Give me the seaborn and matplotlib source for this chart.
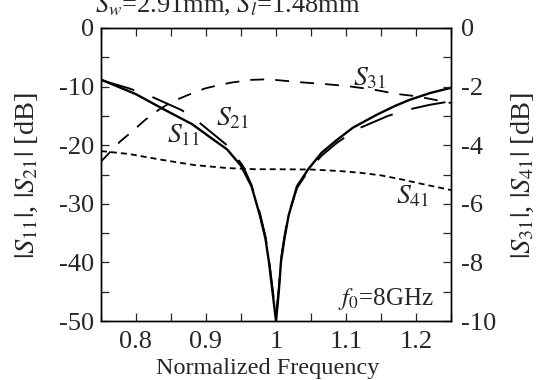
import matplotlib
matplotlib.use("Agg")
import matplotlib.pyplot as plt
from matplotlib.ticker import MultipleLocator
import seaborn as sns

sns.set_style("ticks")
plt.rcParams["font.family"] = ["Liberation Serif", "DejaVu Serif"]
plt.rcParams["mathtext.fontset"] = "stix"
plt.rcParams["lines.scale_dashes"] = False
plt.rcParams["axes.unicode_minus"] = False

# |S11| (solid, left axis, dB)
s11_f = [0.75, 0.78, 0.80, 0.84, 0.88, 0.91, 0.93, 0.95, 0.965, 0.977, 0.985, 0.99, 0.995, 1.0,
         1.004, 1.007, 1.012, 1.018, 1.03, 1.046, 1.065, 1.087, 1.11, 1.144, 1.17, 1.19, 1.22, 1.25]
s11_db = [-8.8, -10.3, -11.3, -13.9, -16.4, -19.0, -20.7, -23.5, -27.0, -32.0, -36.0, -40.0, -45.0, -50.0,
          -45.0, -40.0, -36.0, -32.0, -27.0, -24.1, -21.3, -19.1, -17.0, -14.8, -13.3, -12.3, -11.1, -10.2]

# |S21| (long dash, left axis, dB)
s21_f = [0.75, 0.79, 0.82, 0.865, 0.889, 0.934, 0.953, 0.965, 0.977, 0.985, 0.99, 0.995, 1.0,
         1.004, 1.007, 1.012, 1.018, 1.03, 1.046, 1.065, 1.087, 1.115, 1.16, 1.19, 1.22, 1.25]
s21_db = [-8.9, -10.3, -11.6, -14.0, -16.0, -20.4, -23.6, -26.8, -31.6, -35.6, -39.5, -44.5, -49.0,
          -44.5, -39.5, -35.6, -31.8, -27.3, -24.4, -21.8, -19.6, -17.3, -15.0, -13.9, -13.1, -12.5]

# |S31| (dash, right axis, dB)
s31_f = [0.75, 0.777, 0.794, 0.813, 0.832, 0.851, 0.88, 0.899, 0.92, 0.937, 0.965, 0.989,
         1.034, 1.068, 1.101, 1.139, 1.172, 1.201, 1.25]
s31_db = [-4.56, -3.88, -3.54, -3.14, -2.80, -2.52, -2.23, -2.06, -1.94, -1.86, -1.77, -1.75,
          -1.85, -1.91, -1.98, -2.10, -2.25, -2.33, -2.56]

# |S41| (short dash, right axis, dB)
s41_f = [0.75, 0.79, 0.837, 0.884, 0.93, 0.97, 1.0, 1.05, 1.09, 1.12, 1.15, 1.18, 1.21, 1.25]
s41_db = [-4.20, -4.30, -4.50, -4.68, -4.78, -4.82, -4.82, -4.83, -4.88, -4.94, -5.03, -5.17, -5.33, -5.53]

fig = plt.figure(figsize=(5.41, 3.8), dpi=100)
ax = fig.add_axes([101 / 541, 1 - 321 / 380, 350 / 541, 293 / 380])
ax2 = ax.twinx()

sns.lineplot(x=s11_f, y=s11_db, ax=ax, color="black", linewidth=1.7, estimator=None)
sns.lineplot(x=s21_f, y=s21_db, ax=ax, color="black", linewidth=1.4, estimator=None)
ax.lines[-1].set_dashes([25, 14])
sns.lineplot(x=s31_f, y=s31_db, ax=ax2, color="black", linewidth=1.3, estimator=None)
ax2.lines[-1].set_dashes([10, 8])
sns.lineplot(x=s41_f, y=s41_db, ax=ax2, color="black", linewidth=1.3, estimator=None)
ax2.lines[-1].set_dashes([4.3, 2.9])

ax.set_xlim(0.75, 1.25)
ax.set_ylim(-50, 0)
ax2.set_ylim(-10, 0)

ax.xaxis.set_minor_locator(MultipleLocator(0.05))
ax.yaxis.set_major_locator(MultipleLocator(10))
ax.yaxis.set_minor_locator(MultipleLocator(5))
ax2.yaxis.set_major_locator(MultipleLocator(2))
ax2.yaxis.set_minor_locator(MultipleLocator(1))
ax.set_xticks([0.8, 0.9, 1.0, 1.1, 1.2])
ax.set_xticklabels(["0.8", "0.9", "1", "1.1", "1.2"])

for a in (ax, ax2):
    for s in a.spines.values():
        s.set_visible(True)
        s.set_linewidth(1.0)
        s.set_color("black")
ax.tick_params(which="both", direction="in", top=True, length=6, width=0.9, labelsize=19, pad=5)
ax.tick_params(axis="x", which="both", pad=7)
ax2.tick_params(which="both", direction="in", length=6, width=0.9, labelsize=19, pad=7)
ax.set_xlabel("")
ax.set_ylabel("")
ax2.set_ylabel("")

ax.text(0.844, -19.5, "$S_{11}$", fontsize=20)
ax.text(0.915, -16.6, "$S_{21}$", fontsize=20)
ax2.text(1.11, -1.95, "$S_{31}$", fontsize=20)
ax2.text(1.172, -5.97, "$S_{41}$", fontsize=20)
ax.text(1.225, -47.3, "$f_0$=8GHz", fontsize=18, ha="right")

ymid = 1 - 175 / 380
fig.text(268 / 541, 1 - 374 / 380, "Normalized Frequency", fontsize=17.5, ha="center", va="baseline")
fig.text(27 / 541, ymid, "$|S_{11}|$, $|S_{21}|$ [dB]",
         fontsize=20.5, rotation=90, ha="center", va="center")
fig.text(523 / 541, ymid, "$|S_{31}|$, $|S_{41}|$ [dB]",
         fontsize=20.5, rotation=90, ha="center", va="center")
fig.text(95 / 541, 1 - 12 / 380, "$S_w$=2.91mm, $S_l$=1.48mm", fontsize=19, ha="left", va="baseline")

fig.savefig("out.png", dpi=100)
